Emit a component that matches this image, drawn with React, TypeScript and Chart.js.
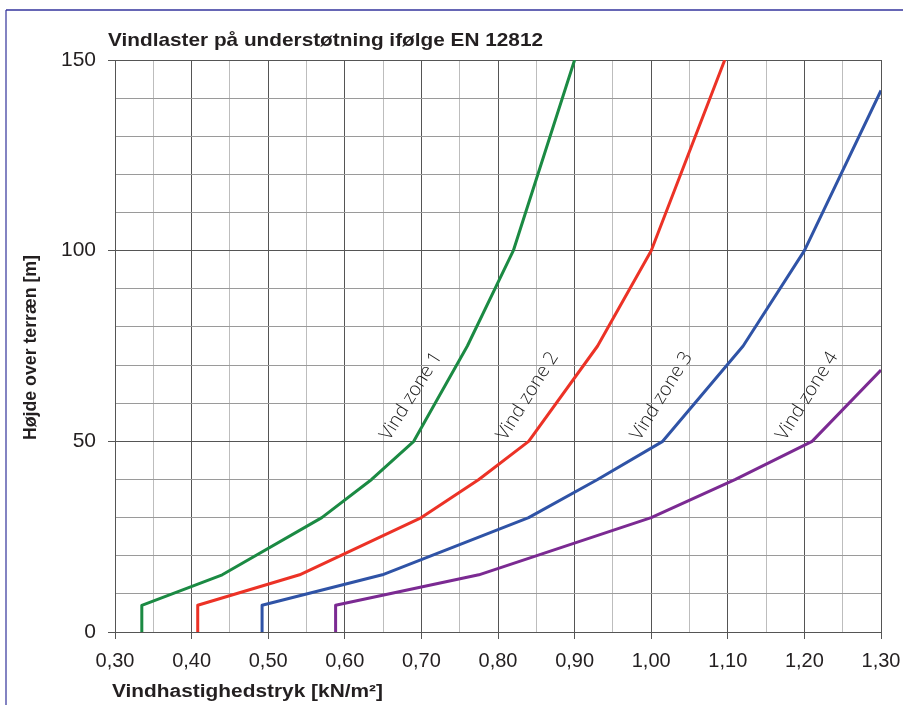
import React, { useEffect, useRef } from "react";
import { Chart, registerables } from "chart.js";

Chart.register(...registerables);

const zone1X = [0.335, 0.335, 0.44, 0.57, 0.635, 0.69, 0.76, 0.82, 0.9];
const zone1Y = [0, 7, 15, 30, 40, 50, 75, 100, 150];
const zone2X = [0.408, 0.408, 0.541, 0.7, 0.775, 0.84, 0.93, 1.0, 1.096];
const zone2Y = [0, 7, 15, 30, 40, 50, 75, 100, 150];
const zone3X = [0.492, 0.492, 0.649, 0.84, 0.93, 1.015, 1.12, 1.2, 1.3];
const zone3Y = [0, 7, 15, 30, 40, 50, 75, 100, 142];
const zone4X = [0.588, 0.588, 0.775, 1.0, 1.11, 1.21, 1.3];
const zone4Y = [0, 7, 15, 30, 40, 50, 68.7];

const zoneNames = ["Vind zone 1", "Vind zone 2", "Vind zone 3", "Vind zone 4"];
const zoneColors = ["#1b8a43", "#ec3226", "#2f53a6", "#7b2a92"];
const labelX = [0.658, 0.81, 0.985, 1.175];
const labelY = [50, 50, 50, 50];

const chartTitle = "Vindlaster på understøtning ifølge EN 12812";
const xTitle = "Vindhastighedstryk [kN/m²]";
const yTitle = "Højde over terræn [m]";

const xMin = 0.3, xMax = 1.3, xStep = 0.05;
const yMin = 0, yMax = 150, yStep = 10;

const pts = (xs: number[], ys: number[]) => xs.map((x, i) => ({ x, y: ys[i] }));
const isMajorX = (v: number) => Math.round(v * 100) % 10 === 0;
const isMajorY = (v: number) => Math.round(v) % 50 === 0;

function fitText(ctx: CanvasRenderingContext2D, text: string, x: number, y: number, target: number) {
  const w = ctx.measureText(text).width;
  ctx.save();
  ctx.translate(x, y);
  ctx.scale(target / w, 1);
  ctx.fillText(text, 0, 0);
  ctx.restore();
}

const decorPlugin = {
  id: "decor",
  beforeDraw(chart: any) {
    const ctx = chart.ctx as CanvasRenderingContext2D;
    ctx.save();
    ctx.fillStyle = "#ffffff";
    ctx.fillRect(0, 0, chart.width, chart.height);
    ctx.strokeStyle = "#5a5aae";
    ctx.lineWidth = 1.5;
    ctx.beginPath();
    ctx.moveTo(6, chart.height);
    ctx.lineTo(6, 10);
    ctx.stroke();
    ctx.strokeStyle = "#33339c";
    ctx.beginPath();
    ctx.moveTo(6, 10);
    ctx.lineTo(chart.width, 10);
    ctx.stroke();
    ctx.restore();
  },
  afterDraw(chart: any) {
    const ctx = chart.ctx as CanvasRenderingContext2D;
    const xs = chart.scales.x;
    const ys = chart.scales.y;
    ctx.save();
    ctx.fillStyle = "#231f20";
    ctx.textAlign = "left";
    ctx.textBaseline = "alphabetic";
    ctx.font = "bold 19px 'Liberation Sans', Arial, sans-serif";
    fitText(ctx, chartTitle, 108, 46, 435);
    ctx.font = "bold 18px 'Liberation Sans', Arial, sans-serif";
    fitText(ctx, xTitle, 112, 697, 271);
    ctx.save();
    ctx.translate(36, 440);
    ctx.rotate(-Math.PI / 2);
    fitText(ctx, yTitle, 0, 0, 185);
    ctx.restore();

    ctx.font = "300 19px 'Open Sans', 'DejaVu Sans', sans-serif";
    ctx.fillStyle = "#1a1a1a";
    const ang = (-58 * Math.PI) / 180;
    zoneNames.forEach((name, i) => {
      const px = xs.getPixelForValue(labelX[i]);
      const py = ys.getPixelForValue(labelY[i]);
      ctx.save();
      ctx.translate(px, py);
      ctx.rotate(ang);
      ctx.fillText(name, 0, 0);
      ctx.restore();
    });
    ctx.restore();
  },
};

export default function App() {
  const ref = useRef<HTMLCanvasElement>(null);
  useEffect(() => {
    const canvas = ref.current;
    if (!canvas) return;
    const series = [pts(zone1X, zone1Y), pts(zone2X, zone2Y), pts(zone3X, zone3Y), pts(zone4X, zone4Y)];
    const chart = new Chart(canvas, {
      type: "line",
      data: {
        datasets: series.map((d, i) => ({
          label: zoneNames[i],
          data: d,
          borderColor: zoneColors[i],
          backgroundColor: zoneColors[i],
          borderWidth: 3,
          pointRadius: 0,
          tension: 0,
          fill: false,
          borderJoinStyle: "round" as const,
        })),
      },
      options: {
        animation: false,
        responsive: false,
        maintainAspectRatio: false,
        layout: { autoPadding: false, padding: { left: 0, top: 60, right: 22, bottom: 0 } },
        plugins: { legend: { display: false }, tooltip: { enabled: false }, title: { display: false } },
        scales: {
          x: {
            type: "linear",
            min: xMin,
            max: xMax,
            afterFit: (s: any) => {
              s.height = 73;
              s.paddingLeft = 0;
              s.paddingRight = 0;
              s.paddingTop = 0;
              s.paddingBottom = 0;
            },
            ticks: {
              stepSize: xStep,
              autoSkip: false,
              maxRotation: 0,
              padding: 10,
              color: "#231f20",
              font: { family: "'Liberation Sans', Arial, sans-serif", size: 20 },
              callback: (v: any) => (isMajorX(Number(v)) ? Number(v).toFixed(2).replace(".", ",") : ""),
            },
            grid: {
              color: (c: any) => (isMajorX(c.tick.value) ? "#555555" : "#bdbdbd"),
              tickColor: (c: any) => (isMajorX(c.tick.value) ? "#555555" : "rgba(0,0,0,0)"),
              tickLength: 7,
              lineWidth: 1,
            },
            border: { display: true, color: "#555555", width: 1 },
          },
          y: {
            type: "linear",
            min: yMin,
            max: yMax,
            afterFit: (s: any) => {
              s.width = 115;
              s.paddingTop = 0;
              s.paddingBottom = 0;
              s.paddingLeft = 0;
              s.paddingRight = 0;
            },
            ticks: {
              stepSize: yStep,
              autoSkip: false,
              padding: 12,
              color: "#231f20",
              font: { family: "'Liberation Sans', Arial, sans-serif", size: 21 },
              callback: (v: any) => (isMajorY(Number(v)) ? String(v) : ""),
            },
            grid: {
              color: (c: any) => (isMajorY(c.tick.value) ? "#555555" : "#9a9a9a"),
              tickColor: (c: any) => (isMajorY(c.tick.value) ? "#555555" : "rgba(0,0,0,0)"),
              tickLength: 7,
              lineWidth: 1,
            },
            border: { display: true, color: "#555555", width: 1 },
          },
        },
      },
      plugins: [decorPlugin],
    });
    return () => chart.destroy();
  }, []);
  return (
    <div style={{ position: "absolute", left: 0, top: 0, width: 903, height: 705, background: "#fff" }}>
      <canvas ref={ref} width={903} height={705} style={{ width: 903, height: 705, display: "block" }} />
    </div>
  );
}
